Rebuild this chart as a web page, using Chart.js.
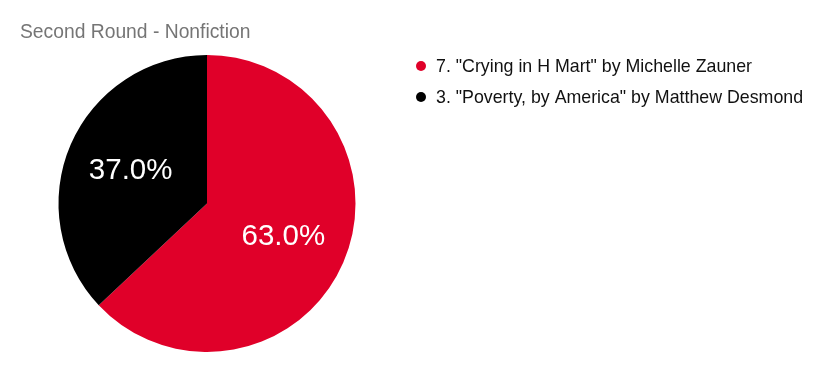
<!DOCTYPE html>
<html>
<head>
<meta charset="utf-8">
<script src="https://cdn.jsdelivr.net/npm/chart.js@4"></script>
<style>
  html, body { margin: 0; padding: 0; background: #fff; }
  canvas { display: block; }
</style>
</head>
<body>
<canvas id="pieChart" width="823" height="371"></canvas>
<script>
// Chart data
const chartTitle = 'Second Round - Nonfiction';
const books = ['7. "Crying in H Mart" by Michelle Zauner', '3. "Poverty, by America" by Matthew Desmond'];
const votes = [63.0, 37.0];
const sliceColors = ['#e00029', '#000000'];

const fontFamily = '"Liberation Sans", Arial, sans-serif';

// Title, slice labels and legend drawn by hand
const decorations = {
    id: 'decorations',
    afterDatasetsDraw(chart) {
        const c = chart.ctx;
        const total = votes.reduce((a, b) => a + b, 0);
        c.save();

        // percentage labels inside slices
        const arcs = chart.getDatasetMeta(0).data;
        c.fillStyle = '#ffffff';
        c.font = '29.5px ' + fontFamily;
        c.textAlign = 'center';
        c.textBaseline = 'middle';
        arcs.forEach((arc, i) => {
            const mid = (arc.startAngle + arc.endAngle) / 2;
            const r = arc.outerRadius * 0.56;
            const x = arc.x + Math.cos(mid) * r;
            const y = arc.y + Math.sin(mid) * r;
            c.fillText((votes[i] / total * 100).toFixed(1) + '%', x, y);
        });

        // title
        c.textAlign = 'left';
        c.textBaseline = 'alphabetic';
        c.fillStyle = '#757575';
        c.font = '19.3px ' + fontFamily;
        c.fillText(chartTitle, 20, 38);

        // legend
        c.font = '17.8px ' + fontFamily;
        c.textBaseline = 'middle';
        books.forEach((name, i) => {
            const y = 66 + i * 31;
            c.fillStyle = sliceColors[i];
            c.beginPath();
            c.arc(421, y, 5, 0, Math.PI * 2);
            c.fill();
            c.fillStyle = '#111111';
            c.fillText(name, 436, y + 1);
        });
        c.restore();
    }
};

new Chart(document.getElementById('pieChart'), {
    type: 'pie',
    data: {
        labels: books,
        datasets: [{
            data: votes,
            backgroundColor: sliceColors,
            borderWidth: 0
        }]
    },
    options: {
        responsive: false,
        animation: false,
        layout: {
            padding: { left: 58, right: 467, top: 55, bottom: 19 }
        },
        plugins: {
            legend: { display: false },
            tooltip: { enabled: false }
        }
    },
    plugins: [decorations]
});
</script>
</body>
</html>
